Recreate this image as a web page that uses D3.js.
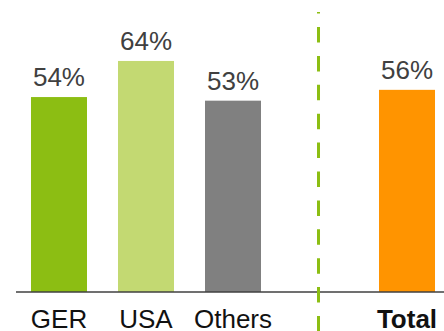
<!DOCTYPE html>
<html>
<head>
<meta charset="utf-8">
<script src="https://cdn.jsdelivr.net/npm/d3@7"></script>
<style>
html,body{margin:0;padding:0;background:#fff;}
svg{display:block;}
</style>
</head>
<body>
<svg id="chart" width="444" height="331"></svg>
<script>
const categories = ["GER", "USA", "Others", "Total"];
const values = [54, 64, 53, 56];
const valueLabels = ["54%", "64%", "53%", "56%"];
const colors = ["#8cbe13", "#c3d972", "#808080", "#ff9400"];
const slots = ["GER", "USA", "Others", "_gap", "Total"];

const svg = d3.select("#chart");
const W = 444, H = 331;
const baseY = 292;

const x = d3.scaleBand().domain(slots).range([15.5, 450.5])
  .paddingInner(0.3563).paddingOuter(0.178);
const y = d3.scaleLinear().domain([0, 100]).range([baseY, baseY - 361]);

const data = categories.map((c, i) => ({c, v: values[i], label: valueLabels[i], color: colors[i]}));

// bars
svg.selectAll("rect.bar").data(data).join("rect")
  .attr("class", "bar")
  .attr("x", d => x(d.c))
  .attr("width", x.bandwidth())
  .attr("y", d => y(d.v))
  .attr("height", d => y(0) - y(d.v))
  .attr("fill", d => d.color);

// value labels
svg.selectAll("text.val").data(data).join("text")
  .attr("class", "val")
  .attr("x", d => x(d.c) + x.bandwidth() / 2)
  .attr("y", d => y(d.v) - 11)
  .attr("text-anchor", "middle")
  .attr("font-family", "Liberation Sans, Arial, sans-serif")
  .attr("font-size", 26)
  .attr("fill", "#404040")
  .text(d => d.label);

// baseline axis
const axis = d3.axisBottom(x).tickSize(0).tickFormat(() => "");
const gAxis = svg.append("g").attr("transform", `translate(0,${baseY})`).call(axis);
gAxis.select(".domain").attr("d", `M16,0H444`).attr("stroke", "#404040").attr("stroke-width", 1.6);

// category labels
svg.selectAll("text.cat").data(data).join("text")
  .attr("class", "cat")
  .attr("x", d => x(d.c) + x.bandwidth() / 2)
  .attr("y", 328)
  .attr("text-anchor", "middle")
  .attr("font-family", "Liberation Sans, Arial, sans-serif")
  .attr("font-size", 26)
  .attr("font-weight", d => d.c === "Total" ? "bold" : "normal")
  .attr("fill", "#111")
  .text(d => d.c);

// dashed divider
const dx = x("_gap") + x.bandwidth() / 2 - 1.5;
svg.append("line")
  .attr("x1", dx).attr("x2", dx)
  .attr("y1", 12).attr("y2", H)
  .attr("stroke", "#8cbe13")
  .attr("stroke-width", 3)
  .attr("stroke-dasharray", "15.5,13.4")
  .attr("stroke-dashoffset", 13.9);
</script>
</body>
</html>
